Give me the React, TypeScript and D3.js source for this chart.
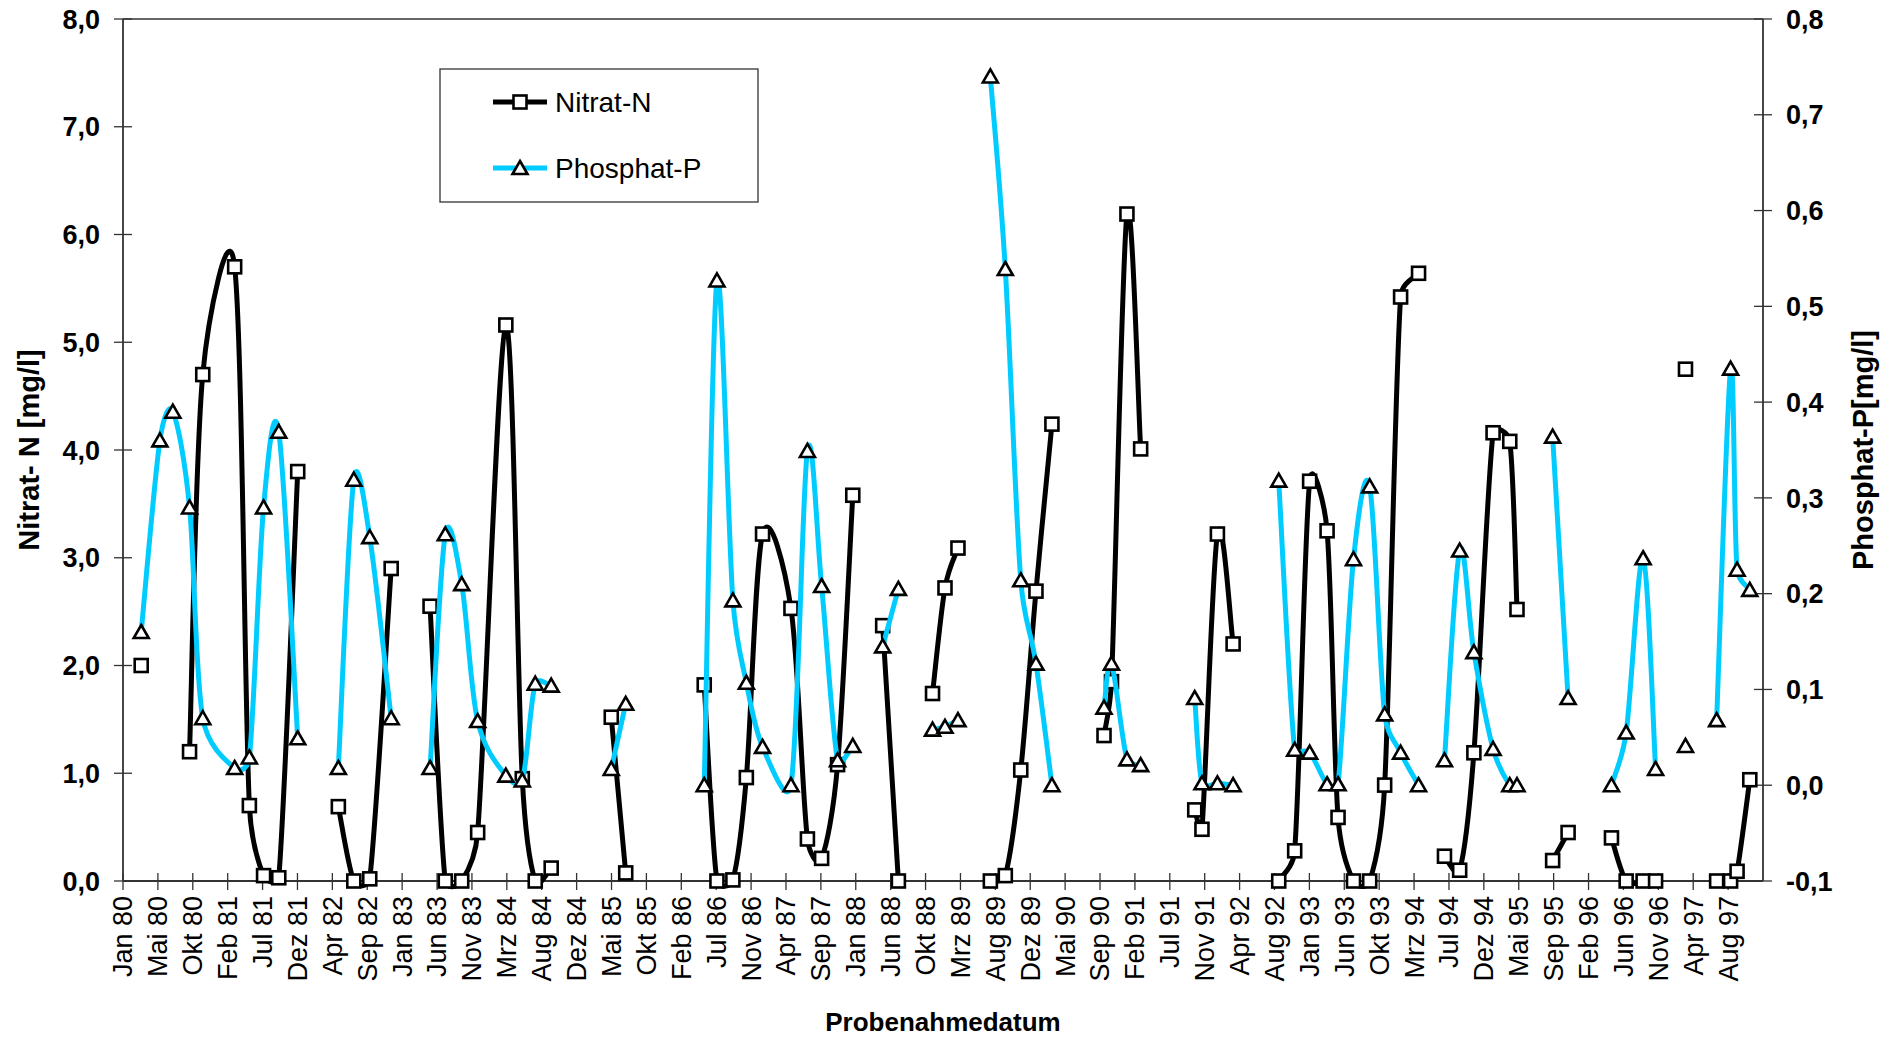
import React from "react";
import * as d3 from "d3";

// ---- data ----
const sampleDates: string[] = [
  "1980-03-14", "1980-05-28", "1980-07-19", "1980-09-24", "1980-11-16",
  "1981-03-24", "1981-05-22", "1981-07-18", "1981-09-17", "1981-12-02",
  "1982-03-01",
  "1982-05-14", "1982-07-15", "1982-09-17", "1982-12-12",
  "1983-03-01",
  "1983-05-17", "1983-07-17", "1983-09-21", "1983-11-24", "1984-03-16",
  "1984-05-21", "1984-07-12", "1984-09-14",
  "1985-01-01",
  "1985-05-13", "1985-07-10",
  "1986-01-01",
  "1986-05-21", "1986-07-11", "1986-09-13", "1986-11-06", "1987-01-10",
  "1987-05-04", "1987-07-09", "1987-09-04", "1987-11-07", "1988-01-07",
  "1988-03-15",
  "1988-05-06", "1988-07-08",
  "1988-09-15",
  "1988-11-22", "1989-01-11", "1989-03-04",
  "1989-05-15",
  "1989-07-12", "1989-09-10", "1989-11-11", "1990-01-11", "1990-03-16",
  "1990-06-15",
  "1990-10-11", "1990-11-10", "1991-01-11", "1991-03-07",
  "1991-06-15",
  "1991-10-10", "1991-11-08", "1992-01-09", "1992-03-12",
  "1992-06-15",
  "1992-09-11", "1992-11-14", "1993-01-13", "1993-03-24", "1993-05-07",
  "1993-07-08", "1993-09-11", "1993-11-10", "1994-01-13", "1994-03-26",
  "1994-05-15",
  "1994-07-08", "1994-09-07", "1994-11-03", "1995-01-19", "1995-03-27",
  "1995-04-25",
  "1995-07-01",
  "1995-09-15", "1995-11-16",
  "1996-02-15",
  "1996-05-08", "1996-07-06", "1996-09-12", "1996-11-01",
  "1997-01-01",
  "1997-03-01",
  "1997-05-01",
  "1997-07-04", "1997-08-29", "1997-09-24", "1997-11-14",
];

const nitratN: (number | null)[] = [
  2.0, null, null, 1.2, 4.7,
  5.7, 0.7, 0.05, 0.03, 3.8,
  null,
  0.69, 0.0, 0.02, 2.9,
  null,
  2.55, 0.0, 0.0, 0.45, 5.16,
  0.95, 0.0, 0.12,
  null,
  1.52, 0.075,
  null,
  1.82, 0.0, 0.01, 0.96, 3.22,
  2.53, 0.39, 0.21, 1.08, 3.58,
  null,
  2.37, 0.0,
  null,
  1.74, 2.72, 3.09,
  null,
  0.0, 0.05, 1.03, 2.69, 4.24,
  null,
  1.35, 1.85, 6.19, 4.01,
  null,
  0.66, 0.48, 3.22, 2.2,
  null,
  0.0, 0.28, 3.71, 3.25, 0.59,
  0.0, 0.0, 0.89, 5.42, 5.64,
  null,
  0.23, 0.1, 1.19, 4.16, 4.08,
  2.52,
  null,
  0.19, 0.45,
  null,
  0.4, 0.0, 0.0, 0.0,
  null,
  4.75,
  null,
  0.0, 0.0, 0.09, 0.94,
];

const phosphatP: (number | null)[] = [
  0.16, 0.36, 0.39, 0.29, 0.07,
  0.018, 0.029, 0.29, 0.369, 0.049,
  null,
  0.018, 0.319, 0.259, 0.07,
  null,
  0.018, 0.262, 0.21, 0.067, 0.01,
  0.005, 0.106, 0.104,
  null,
  0.017, 0.085,
  null,
  0.0, 0.527, 0.193, 0.107, 0.04,
  0.0, 0.349, 0.208, 0.026, 0.041,
  null,
  0.145, 0.205,
  null,
  0.058, 0.061, 0.068,
  null,
  0.74, 0.539, 0.214, 0.127, 0.0,
  null,
  0.081, 0.127, 0.027, 0.021,
  null,
  0.091, 0.002, 0.002, 0.0,
  null,
  0.318, 0.037, 0.034, 0.001, 0.001,
  0.236, 0.312, 0.074, 0.034, 0.0,
  null,
  0.026, 0.245, 0.139, 0.038, 0.0,
  0.0,
  null,
  0.364, 0.091,
  null,
  0.0, 0.055, 0.237, 0.017,
  null,
  0.041,
  null,
  0.068, 0.435, 0.225, 0.204,
];

const xTickLabels: string[] = [
  "Jan 80", "Mai 80", "Okt 80", "Feb 81", "Jul 81", "Dez 81", "Apr 82", "Sep 82",
  "Jan 83", "Jun 83", "Nov 83", "Mrz 84", "Aug 84", "Dez 84", "Mai 85", "Okt 85",
  "Feb 86", "Jul 86", "Nov 86", "Apr 87", "Sep 87", "Jan 88", "Jun 88", "Okt 88",
  "Mrz 89", "Aug 89", "Dez 89", "Mai 90", "Sep 90", "Feb 91", "Jul 91", "Nov 91",
  "Apr 92", "Aug 92", "Jan 93", "Jun 93", "Okt 93", "Mrz 94", "Jul 94", "Dez 94",
  "Mai 95", "Sep 95", "Feb 96", "Jun 96", "Nov 96", "Apr 97", "Aug 97",
];

const leftTicks: number[] = [0, 1, 2, 3, 4, 5, 6, 7, 8];
const rightTicks: number[] = [-0.1, 0, 0.1, 0.2, 0.3, 0.4, 0.5, 0.6, 0.7, 0.8];

const seriesNames = ["Nitrat-N", "Phosphat-P"];
const xTitle = "Probenahmedatum";
const yLeftTitle = "Nitrat- N [mg/l]";
const yRightTitle = "Phosphat-P[mg/l]";

// ---- layout / style ----
const W = 1899;
const H = 1037;
const PL = 123;
const PR = 1763;
const PT = 19;
const PB = 881;
const FONT = "'Liberation Sans', Arial, Helvetica, sans-serif";
const AXIS = "#333333";
const BLACK = "#000000";
const CYAN = "#00CCFF";
const BASE_UNIT_DAYS = 140;

const fmt = (v: number) => d3.format(".1f")(v).replace(".", ",").replace("−", "-");

// Excel-style smoothed line: cubic Bezier, control handles 1/6 of the
// neighbour chord, clamped to half of the segment length.
function smoothSegment(pts: [number, number][], p: d3.Path) {
  p.moveTo(pts[0][0], pts[0][1]);
  if (pts.length === 1) {
    p.lineTo(pts[0][0], pts[0][1]);
    return;
  }
  for (let i = 0; i < pts.length - 1; i++) {
    const P1 = pts[i];
    const P2 = pts[i + 1];
    const P0 = i > 0 ? pts[i - 1] : P1;
    const P3 = i + 2 < pts.length ? pts[i + 2] : P2;
    const d12 = Math.hypot(P2[0] - P1[0], P2[1] - P1[1]);
    const t1x = P2[0] - P0[0];
    const t1y = P2[1] - P0[1];
    const t2x = P3[0] - P1[0];
    const t2y = P3[1] - P1[1];
    const d02 = Math.hypot(t1x, t1y);
    const d13 = Math.hypot(t2x, t2y);
    let f1 = 1 / 6;
    let f2 = 1 / 6;
    if (d02 / 6 > d12 / 2 && d02 > 0) f1 = d12 / 2 / d02;
    if (d13 / 6 > d12 / 2 && d13 > 0) f2 = d12 / 2 / d13;
    p.bezierCurveTo(
      P1[0] + t1x * f1,
      P1[1] + t1y * f1,
      P2[0] - t2x * f2,
      P2[1] - t2y * f2,
      P2[0],
      P2[1]
    );
  }
}

function smoothPath(xs: number[], ys: (number | null)[]): string {
  const p = d3.path();
  let seg: [number, number][] = [];
  ys.forEach((y, i) => {
    if (y == null) {
      if (seg.length > 1) smoothSegment(seg, p);
      seg = [];
    } else {
      seg.push([xs[i], y]);
    }
  });
  if (seg.length > 1) smoothSegment(seg, p);
  return p.toString();
}

function Square({ cx, cy }: { cx: number; cy: number }) {
  return <rect x={cx - 6.5} y={cy - 6.5} width={13} height={13} fill="#fff" stroke={BLACK} strokeWidth={2.6} />;
}

function Tri({ cx, cy }: { cx: number; cy: number }) {
  const d = `M${cx},${cy - 7}L${cx + 7.5},${cy + 6}L${cx - 7.5},${cy + 6}Z`;
  return <path d={d} fill="#fff" stroke={BLACK} strokeWidth={2.6} strokeLinejoin="miter" />;
}

export default function App() {
  const parse = d3.utcParse("%Y-%m-%d");
  const dates = sampleDates.map((s) => parse(s) as Date);
  const start = new Date(Date.UTC(1980, 0, 1));
  const end = d3.utcDay.offset(start, BASE_UNIT_DAYS * xTickLabels.length);

  const x = d3.scaleUtc().domain([start, end]).range([PL, PR]);
  const yL = d3.scaleLinear().domain([0, 8]).range([PB, PT]);
  const yR = d3.scaleLinear().domain([-0.1, 0.8]).range([PB, PT]);

  const xs = dates.map((d) => x(d));
  const nPath = smoothPath(xs, nitratN.map((v) => (v == null ? null : yL(v))));
  const pPath = smoothPath(xs, phosphatP.map((v) => (v == null ? null : yR(v))));

  const tickDates = xTickLabels.map((_, i) => d3.utcDay.offset(start, BASE_UNIT_DAYS * i));

  return (
    <div style={{ position: "absolute", left: 0, top: 0 }}>
      <svg width={W} height={H} style={{ display: "block", background: "#fff" }} fontFamily={FONT}>
        <rect x={0} y={0} width={W} height={H} fill="#fff" />
        {/* plot frame top */}
        <line x1={PL} x2={PR} y1={PT} y2={PT} stroke={AXIS} strokeWidth={1.5} />

        {/* left axis */}
        <line x1={PL} x2={PL} y1={PT} y2={PB} stroke={AXIS} strokeWidth={1.8} />
        {leftTicks.map((t) => (
          <g key={"l" + t}>
            <line x1={PL - 9} x2={PL + 9} y1={yL(t)} y2={yL(t)} stroke={AXIS} strokeWidth={1.3} />
            <text x={100} y={yL(t)} dy="0.36em" textAnchor="end" fontSize={27} fontWeight="bold" fill="#000">
              {fmt(t)}
            </text>
          </g>
        ))}

        {/* right axis */}
        <line x1={PR} x2={PR} y1={PT} y2={PB} stroke={AXIS} strokeWidth={1.8} />
        {rightTicks.map((t) => (
          <g key={"r" + t}>
            <line x1={PR - 9} x2={PR + 9} y1={yR(t)} y2={yR(t)} stroke={AXIS} strokeWidth={1.3} />
            <text x={1786} y={yR(t)} dy="0.36em" textAnchor="start" fontSize={27} fontWeight="bold" fill="#000">
              {fmt(t)}
            </text>
          </g>
        ))}

        {/* bottom axis */}
        <line x1={PL} x2={PR} y1={PB} y2={PB} stroke={AXIS} strokeWidth={1.8} />
        {tickDates.map((d, i) => (
          <g key={"x" + i}>
            <line x1={x(d)} x2={x(d)} y1={PB - 8} y2={PB + 9} stroke={AXIS} strokeWidth={1.3} />
            <text
              transform={`translate(${x(d)},${896}) rotate(-90)`}
              dy="0.35em"
              textAnchor="end"
              fontSize={27}
              fill="#000"
            >
              {xTickLabels[i]}
            </text>
          </g>
        ))}

        {/* axis titles */}
        <text x={(PL + PR) / 2} y={1031} textAnchor="middle" fontSize={26} fontWeight="bold" fill="#000">
          {xTitle}
        </text>
        <text transform={`translate(39,${(PT + PB) / 2}) rotate(-90)`} textAnchor="middle" fontSize={29} fontWeight="bold" fill="#000">
          {yLeftTitle}
        </text>
        <text transform={`translate(1873,${(PT + PB) / 2}) rotate(-90)`} textAnchor="middle" fontSize={29} fontWeight="bold" fill="#000">
          {yRightTitle}
        </text>

        {/* Nitrat-N series */}
        <path d={nPath} fill="none" stroke={BLACK} strokeWidth={5} strokeLinejoin="round" />
        {nitratN.map((v, i) =>
          v == null ? null : <Square key={"n" + i} cx={xs[i]} cy={yL(v)} />
        )}

        {/* Phosphat-P series */}
        <path d={pPath} fill="none" stroke={CYAN} strokeWidth={5} strokeLinejoin="round" />
        {phosphatP.map((v, i) =>
          v == null ? null : <Tri key={"p" + i} cx={xs[i]} cy={yR(v)} />
        )}

        {/* legend */}
        <rect x={440} y={69} width={318} height={133} fill="#fff" stroke={AXIS} strokeWidth={1.3} />
        <line x1={493} x2={547} y1={102} y2={102} stroke={BLACK} strokeWidth={5} />
        <Square cx={520} cy={102} />
        <text x={555} y={102} dy="0.36em" fontSize={28} fill="#000">
          {seriesNames[0]}
        </text>
        <line x1={493} x2={547} y1={168} y2={168} stroke={CYAN} strokeWidth={5} />
        <Tri cx={520} cy={168} />
        <text x={555} y={168} dy="0.36em" fontSize={28} fill="#000">
          {seriesNames[1]}
        </text>
      </svg>
    </div>
  );
}
